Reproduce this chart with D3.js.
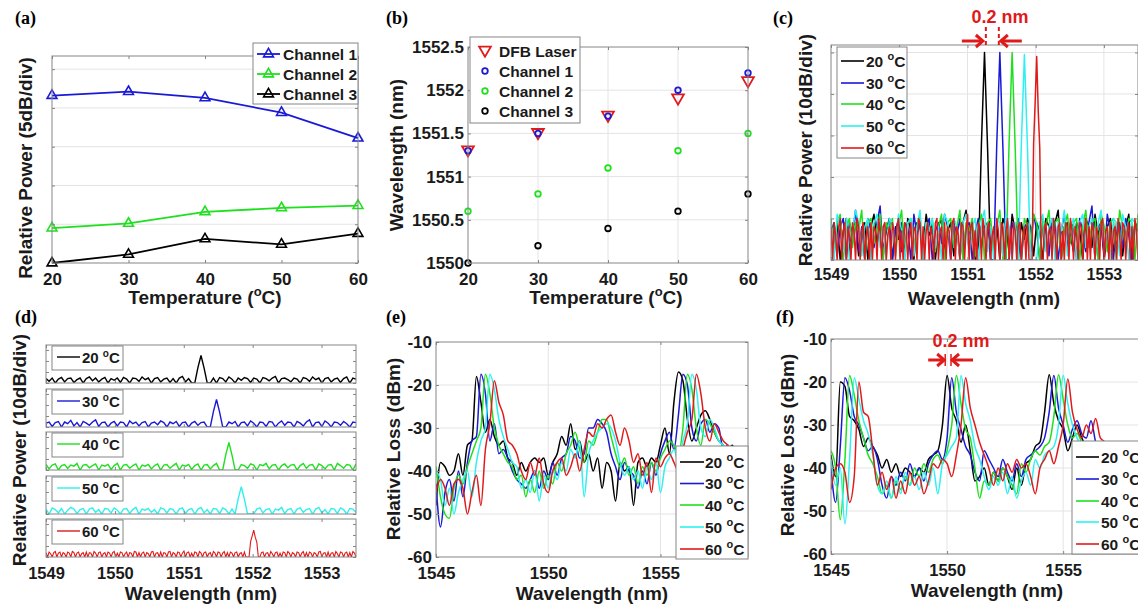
<!DOCTYPE html>
<html>
<head>
<meta charset="utf-8">
<script src="https://cdn.jsdelivr.net/npm/d3@7"></script>
<style>
body { margin: 0; background: #fff; }
svg text { font-family: "Liberation Sans", Arial, sans-serif; font-weight: bold; fill: #1a1a1a; }
svg text.plab { font-family: "Liberation Serif", "Times New Roman", serif; font-size: 18px; fill: #000; }
</style>
</head>
<body>
<svg id="fig" width="1138" height="606"></svg>
<script>
// ---- (a) relative power of channels vs temperature (5 dB/div, bottom = 0)
var temps = [20, 30, 40, 50, 60]
var powCh1 = [21.6, 22.1, 21.3, 19.4, 16.1]
var powCh2 = [4.5, 5.1, 6.6, 7.1, 7.4]
var powCh3 = [0, 1.1, 3.1, 2.4, 3.8]

// ---- (b) wavelength vs temperature
var wlDfb = [1551.3, 1551.5, 1551.7, 1551.9, 1552.1]
var wlCh1 = [1551.3, 1551.5, 1551.7, 1552.0, 1552.2]
var wlCh2 = [1550.6, 1550.8, 1551.1, 1551.3, 1551.5]
var wlCh3 = [1550.0, 1550.2, 1550.4, 1550.6, 1550.8]

var tempLabels = ['20 ^oC', '30 ^oC', '40 ^oC', '50 ^oC', '60 ^oC']
var wlTicks = [1549, 1550, 1551, 1552, 1553]

// ---- (c)/(d) output spectra, relative power (dB above floor)
// 20..50 degC sampled every 0.045 nm from 1549 nm, 60 degC every 0.0225 nm
var specWl = d3.range(0, 101).map(i => 1549 + i * 0.045)
var specWlFine = d3.range(0, 201).map(i => 1549 + i * 0.0225)
var spec20 = [8,3,9,0,7,10,2,8,9,1, 6,9,0,8,11,4,9,2,7,10, 0,8,5,9,1,10,7,0,9,8, 3,11,6,9,0,8,10,2,7,9,
  1,8,0,9,12,2,8,0,0,28, 50,27,0,0,9,0,10,8,2,11, 7,0,9,5,10,8,1,9,7,0, 10,8,4,9,12,0,8,9,6,2,
  9,7,0,10,8,3,11,6,9,0, 8,10,2,7,9,1,8,11,0,9, 7]
var spec30 = [7,9,1,8,10,0,9,6,12,2, 8,0,10,7,3,9,13,1,8,9, 0,7,10,2,9,8,0,11,6,9, 2,8,10,0,7,9,4,11,8,0,
  9,6,10,1,8,9,0,7,10,3, 8,9,0,0,28,50,27,0,0,9, 6,10,0,8,9,2,11,7,0,9, 8,1,10,9,0,7,11,3,9,8,
  0,10,7,2,9,13,0,8,9,1, 11,7,0,9,8,3,10,6,0,9, 8]
var spec40 = [10,2,9,11,0,8,10,3,9,7, 12,0,9,10,4,8,11,0,9,7, 10,1,8,12,0,9,10,3,8,11, 0,9,7,10,2,8,11,0,9,10,
  3,8,12,0,9,7,10,1,8,11, 0,9,10,2,8,12,0,0,28,50, 27,0,0,10,8,3,11,9,0,10, 8,12,2,9,10,0,8,11,4,9,
  10,0,8,12,3,9,10,0,11,8, 2,9,10,0,12,8,3,10,9,0, 11]
var spec50 = [9,0,11,8,2,10,0,7,12,9, 1,8,10,0,9,11,3,8,0,10, 9,2,11,7,0,9,10,1,8,12, 0,9,7,10,3,8,0,11,9,2,
  10,8,0,9,11,1,8,10,0,9, 12,2,8,0,10,9,1,11,8,0, 9,0,28,49.5,27,0,0,0,9,11, 2,8,10,0,9,7,12,1,8,10,
  0,9,11,3,8,10,0,9,12,2, 8,0,10,9,1,11,8,0,10,9, 3]
var spec60 = [8,0,9,6,0,8,10,0,7,9, 0,8,6,0,9,7,0,10,8,0, 7,9,0,6,8,0,9,0,8,7, 0,10,7,0,8,9,0,6,8,0,
  9,7,0,8,10,0,7,0,9,8, 0,6,9,0,8,7,0,10,9,0, 8,0,7,9,0,8,6,0,9,10, 0,7,8,0,9,0,8,7,0,9,
  10,0,8,6,0,9,8,0,7,11, 0,8,9,0,7,0,9,8,0,10, 7,0,8,9,0,6,8,0,10,7, 0,9,8,0,7,10,0,8,0,9,
  7,0,8,9,0,6,8,0,9,0, 0,0,28,38,49,36,27,0,0,8, 9,0,7,8,0,10,6,0,8,9, 0,7,0,9,8,0,10,7,0,8,
  6,0,9,8,0,7,10,0,8,0, 9,7,0,8,6,0,9,10,0,7, 8,0,9,0,7,8,0,10,6,0, 9,8,0,7,9,0,8,0,10,7, 0]

// ---- (e) transmission, dBm, every 0.2 nm from 1545 nm
var lossWlE = d3.range(0, 70).map(i => 1545 + i * 0.2)
var lossE20 = [-48,-38,-39,-41,-40,-36,-41,-34,-33,-18, -24,-31,-28,-32,-34,-33,-37,-38,-41,-38,
  -40,-38,-37,-38,-37,-41,-38,-36,-32,-34, -29,-35,-33,-38,-36,-40,-37,-44,-38,-40,
  -47,-38,-40,-39,-48,-38,-37,-39,-37,-38, -34,-30,-36,-24,-17,-19,-28,-33,-30,-27,
  -26,-28,-31,-33,-34,-35,-34,-36,-35,-37]
var lossE30 = [-43,-53,-45,-42,-47,-40,-46,-38,-33,-32, -17.5,-22,-33,-29,-36,-35,-37,-40,-42,-43,
  -44,-42,-40,-44,-40,-42,-38,-41,-37,-36, -32,-33,-37,-36,-30,-30,-28,-29,-31,-36,
  -39,-42,-38,-40,-41,-44,-40,-43,-38,-41, -36,-33,-31,-35,-27,-17.5,-20,-30,-33,-29,
  -28,-31,-29,-30,-35,-34,-36,-37,-35,-38]
var lossE40 = [-39,-46,-50,-51,-44,-41,-43,-39,-36,-33, -30,-17.5,-22,-30,-34,-36,-38,-39,-42,-41,
  -46,-42,-45,-40,-44,-41,-43,-38,-40,-36, -34,-31,-35,-38,-33,-34,-31,-28,-28,-32,
  -36,-39,-37,-41,-39,-43,-39,-41,-38,-40, -37,-35,-33,-34,-36,-30,-17.5,-21,-30,-34,
  -28,-29,-31,-33,-34,-36,-35,-36,-37,-38]
var lossE50 = [-40,-42,-48,-44,-50,-45,-42,-40,-46,-38, -33,-30,-17.5,-21,-28,-32,-35,-38,-39,-44,
  -42,-45,-40,-47,-41,-44,-40,-42,-38,-40, -35,-37,-33,-46,-36,-33,-31,-30,-29,-30,
  -33,-38,-41,-39,-42,-40,-44,-39,-42,-38, -45,-39,-37,-35,-38,-33,-29,-17.5,-21,-30,
  -32,-28,-30,-33,-34,-35,-37,-38,-39,-40]
var lossE60 = [-45,-42,-44,-48,-43,-42,-44,-50,-45,-41, -48,-35,-29,-19,-24,-27,-33,-34,-36,-40,
  -42,-38,-41,-37,-43,-45,-40,-38,-37,-41, -39,-36,-40,-35,-31,-32,-29,-30,-28,-27,
  -31,-34,-30,-33,-38,-36,-41,-38,-45,-37, -39,-37,-36,-38,-40,-35,-31,-28,-17.5,-22,
  -30,-33,-29,-31,-33,-34,-36,-37,-35,-38]

// ---- (f) transmission, dBm, every 0.2 nm from 1545 nm
var lossWlF = d3.range(0, 67).map(i => 1545 + i * 0.2)
var lossF20 = [-37,-42,-20,-21,-28,-29,-31,-35,-33,-35, -37,-40,-38,-41,-39,-42,-40,-41,-42,-40,
  -41,-38,-37,-36,-30,-18.5,-26,-29,-34,-30, -36,-43,-42,-40,-44,-41,-43,-40,-42,-45,
  -40,-44,-39,-38,-35,-34,-27,-18.3,-25,-29, -31,-36,-33,-30,-33,-35,-37,-36,-38,-37,
  -39,-38,-40,-39,-41,-40,-42]
var lossF30 = [-40,-48,-35,-19,-22,-28,-30,-33,-36,-35, -38,-44,-47,-42,-44,-41,-43,-39,-42,-40,
  -43,-39,-37,-36,-38,-33,-19,-27,-31,-35, -37,-41,-43,-36,-38,-40,-42,-38,-41,-43,
  -39,-42,-38,-37,-36,-35,-33,-27,-18.5,-26, -30,-34,-31,-29,-32,-33,-29,-34,-37,-36,
  -38,-37,-39,-38,-40,-39,-41]
var lossF40 = [-36,-40,-52,-38,-18.5,-23,-29,-33,-37,-39, -42,-46,-44,-47,-43,-45,-42,-44,-40,-42,
  -39,-41,-38,-37,-39,-36,-30,-18.5,-25,-31, -33,-40,-47,-43,-44,-41,-43,-40,-42,-44,
  -46,-39,-41,-38,-36,-37,-35,-34,-28,-18.3, -24,-30,-33,-32,-34,-36,-35,-37,-38,-37,
  -39,-38,-40,-39,-41,-40,-42]
var lossF50 = [-38,-44,-40,-53,-38,-19,-24,-29,-32,-37, -44,-46,-43,-47,-42,-46,-41,-44,-42,-45,
  -41,-44,-40,-46,-39,-37,-35,-33,-18.5,-25, -29,-35,-38,-42,-45,-42,-44,-41,-46,-42,
  -47,-43,-41,-44,-38,-40,-37,-36,-35,-30, -18.5,-25,-30,-33,-35,-36,-38,-37,-39,-38,
  -40,-39,-41,-40,-42,-41,-43]
var lossF60 = [-45,-40,-39,-41,-48,-42,-20,-27,-28,-36, -44,-41,-45,-42,-47,-43,-46,-41,-44,-42,
  -46,-43,-39,-40,-38,-39,-42,-37,-30,-19, -26,-30,-34,-37,-40,-44,-40,-43,-39,-41,
  -38,-40,-39,-42,-46,-40,-38,-36,-39,-35, -30,-19.3,-27,-31,-33,-30,-32,-28.5,-33,-34,
  -36,-35,-37,-36,-38,-37,-39]

// 0.2 nm shift markers (peak wavelengths of 20 and 30 degC)
var shiftC = [1551.27, 1551.46]
var shiftF = [1549.92, 1550.17]

var black = '#000000', blue = '#1a1ad6', green = '#1fe01f', cyan = '#2ef0f0', red = '#e01a1a'
var tempColors = [black, blue, green, cyan, red]
var gridCol = '#e4e4e4', boxCol = '#858585'

var svg = d3.select('#fig')
var defs = svg.append('defs')
var clipN = 0

function clip(x, y) {
    var id = 'clip' + (clipN++)
    var xr = x.range(), yr = y.range()
    defs.append('clipPath').attr('id', id).append('rect')
        .attr('x', xr[0]).attr('y', yr[1]).attr('width', xr[1] - xr[0]).attr('height', yr[0] - yr[1])
    return 'url(#' + id + ')'
}

// text with "^o" turned into a raised small o
function label(g, x, y, str, size, anchor, rotate, color) {
    var t = g.append('text').attr('x', x).attr('y', y).style('font-size', size + 'px')
        .attr('text-anchor', anchor || 'start')
    if (rotate) t.attr('transform', `rotate(-90, ${x}, ${y})`)
    if (color) t.style('fill', color)
    var parts = str.split('^o')
    t.append('tspan').text(parts[0])
    if (parts.length > 1) {
        t.append('tspan').text('o').style('font-size', Math.round(size * 0.68) + 'px').attr('dy', -size * 0.42)
        t.append('tspan').text(parts[1]).attr('dy', size * 0.42)
    }
    return t
}

function grid(g, x, y, gx, gy) {
    var xr = x.range(), yr = y.range()
    g.selectAll(null).data(gx).join('line')
        .attr('x1', d => x(d)).attr('x2', d => x(d)).attr('y1', yr[0]).attr('y2', yr[1])
        .attr('stroke', gridCol)
    g.selectAll(null).data(gy).join('line')
        .attr('y1', d => y(d)).attr('y2', d => y(d)).attr('x1', xr[0]).attr('x2', xr[1])
        .attr('stroke', gridCol)
}

function frame(g, x, y, o) {
    var xr = x.range(), yr = y.range(), tl = 3
    g.append('rect').attr('x', xr[0]).attr('y', yr[1]).attr('width', xr[1] - xr[0]).attr('height', yr[0] - yr[1])
        .attr('fill', 'none').attr('stroke', boxCol)
    var bx = g.append('g').attr('transform', `translate(0,${yr[0]})`)
        .call(d3.axisBottom(x).tickValues(o.tx).tickSizeInner(-tl).tickSizeOuter(0)
            .tickPadding(o.xpad || 0).tickFormat(o.xfs ? (d => String(d)) : (() => '')))
    g.append('g').attr('transform', `translate(0,${yr[1]})`)
        .call(d3.axisTop(x).tickValues(o.tx).tickSizeInner(-tl).tickSizeOuter(0).tickFormat(() => ''))
    var ly = g.append('g').attr('transform', `translate(${xr[0]},0)`)
        .call(d3.axisLeft(y).tickValues(o.ty).tickSizeInner(-tl).tickSizeOuter(0)
            .tickPadding(o.ypad || 0).tickFormat(o.yfs ? (d => String(d)) : (() => '')))
    g.append('g').attr('transform', `translate(${xr[1]},0)`)
        .call(d3.axisRight(y).tickValues(o.ty).tickSizeInner(-tl).tickSizeOuter(0).tickFormat(() => ''))
    g.selectAll('.domain').remove()
    g.selectAll('.tick line').attr('stroke', boxCol)
    if (o.xfs) bx.selectAll('text').style('font-size', o.xfs + 'px')
    if (o.yfs) ly.selectAll('text').style('font-size', o.yfs + 'px')
}

function legendBox(g, x, y, w, h) {
    g.append('rect').attr('x', x).attr('y', y).attr('width', w).attr('height', h)
        .attr('fill', '#fff').attr('stroke', boxCol)
}

function tempLegend(g, x, y, w, h, rows, lx0, lx1, tx, fs) {
    legendBox(g, x, y, w, h)
    tempLabels.forEach((t, i) => {
        g.append('line').attr('x1', lx0).attr('x2', lx1).attr('y1', rows[i]).attr('y2', rows[i])
            .attr('stroke', tempColors[i]).attr('stroke-width', 1.6)
        label(g, tx, rows[i] + fs * 0.36, t, fs)
    })
}

// ================= (a)
var xa = d3.scaleLinear().domain([20, 60]).range([52, 358])
var ya = d3.scaleLinear().domain([0, 26.7]).range([263, 56])
var ga = svg.append('g')
grid(ga, xa, ya, [], [5, 10, 15, 20, 25])
var lineA = d3.line().x((d, i) => xa(temps[i])).y(d => ya(d))
var tri = d3.symbol().type(d3.symbolTriangle).size(42)
var seriesA = [[powCh1, blue, 'Channel 1'], [powCh2, green, 'Channel 2'], [powCh3, black, 'Channel 3']]
seriesA.forEach(s => {
    ga.append('path').attr('d', lineA(s[0])).attr('fill', 'none').attr('stroke', s[1]).attr('stroke-width', 1.8)
    ga.selectAll(null).data(s[0]).join('path').attr('d', tri)
        .attr('transform', (d, i) => `translate(${xa(temps[i])},${ya(d)})`)
        .attr('fill', 'none').attr('stroke', s[1]).attr('stroke-width', 1.6)
})
frame(ga, xa, ya, { tx: temps, ty: [0, 5, 10, 15, 20, 25], xfs: 17, xpad: 10 })
legendBox(ga, 253, 43, 105, 61)
seriesA.forEach((s, i) => {
    var ry = 54 + i * 20
    ga.append('line').attr('x1', 257).attr('x2', 280).attr('y1', ry).attr('y2', ry).attr('stroke', s[1]).attr('stroke-width', 1.8)
    ga.append('path').attr('d', tri).attr('transform', `translate(268.5,${ry})`)
        .attr('fill', 'none').attr('stroke', s[1]).attr('stroke-width', 1.6)
    label(ga, 283, ry + 5.5, s[2], 15.5)
})
label(ga, 205, 304, 'Temperature (^oC)', 19, 'middle')
label(ga, 32, 168, 'Relative Power (5dB/div)', 19, 'middle', true)
ga.append('text').attr('class', 'plab').attr('x', 15).attr('y', 24).text('(a)')

// ================= (b)
var xb = d3.scaleLinear().domain([20, 60]).range([468, 748])
var yb = d3.scaleLinear().domain([1550, 1552.5]).range([263, 47])
var gb = svg.append('g')
grid(gb, xb, yb, [30, 40, 50], [1550.5, 1551, 1551.5, 1552])
var triDown = d3.symbol().type(d3.symbolTriangle).size(60)
gb.selectAll(null).data(wlDfb).join('path').attr('d', triDown)
    .attr('transform', (d, i) => `translate(${xb(temps[i])},${yb(d) - 1}) rotate(180)`)
    .attr('fill', 'none').attr('stroke', red).attr('stroke-width', 1.8)
var seriesB = [[wlCh1, blue], [wlCh2, green], [wlCh3, black]]
seriesB.forEach(s => {
    gb.selectAll(null).data(s[0]).join('circle')
        .attr('cx', (d, i) => xb(temps[i])).attr('cy', d => yb(d)).attr('r', 2.8)
        .attr('fill', 'none').attr('stroke', s[1]).attr('stroke-width', 1.8)
})
frame(gb, xb, yb, { tx: temps, ty: [1550, 1550.5, 1551, 1551.5, 1552, 1552.5], xfs: 17, xpad: 10, yfs: 17, ypad: 4 })
legendBox(gb, 470, 37, 110, 86)
var legB = [['DFB Laser', red], ['Channel 1', blue], ['Channel 2', green], ['Channel 3', black]]
legB.forEach((s, i) => {
    var ry = 51 + i * 20
    if (i === 0) {
        gb.append('path').attr('d', triDown).attr('transform', `translate(485,${ry - 1}) rotate(180)`)
            .attr('fill', 'none').attr('stroke', red).attr('stroke-width', 1.8)
    } else {
        gb.append('circle').attr('cx', 485).attr('cy', ry).attr('r', 2.8)
            .attr('fill', 'none').attr('stroke', s[1]).attr('stroke-width', 1.8)
    }
    label(gb, 499, ry + 5.5, s[0], 15.5)
})
label(gb, 606, 304, 'Temperature (^oC)', 19, 'middle')
label(gb, 403, 155, 'Wavelength (nm)', 19, 'middle', true)
gb.append('text').attr('class', 'plab').attr('x', 386).attr('y', 24).text('(b)')

// ================= (c)
var specs = [spec20, spec30, spec40, spec50, spec60]
var specX = [specWl, specWl, specWl, specWl, specWlFine]
var xc = d3.scaleLinear().domain([1549, 1553.5]).range([831, 1138])
var yc = d3.scaleLinear().domain([0, 51.8]).range([260, 45])
var gc = svg.append('g')
grid(gc, xc, yc, [1550, 1551, 1552, 1553], [10, 20, 30, 40, 50])
var pc = gc.append('g').attr('clip-path', clip(xc, yc))
specs.forEach((s, i) => {
    var lineC = d3.line().x((d, k) => xc(specX[i][k])).y(d => yc(d))
    pc.append('path').attr('d', lineC(s)).attr('fill', 'none').attr('stroke', tempColors[i])
        .attr('stroke-width', 1.5).attr('stroke-linejoin', 'round')
})
frame(gc, xc, yc, { tx: wlTicks, ty: [0, 10, 20, 30, 40, 50], xfs: 16, xpad: 9 })
tempLegend(gc, 837, 47, 70, 111, [61, 83, 104, 126, 148], 841, 864, 866, 15.5)
label(gc, 984, 305, 'Wavelength (nm)', 19, 'middle')
label(gc, 812, 150, 'Relative Power (10dB/div)', 19, 'middle', true)
gc.append('text').attr('class', 'plab').attr('x', 773).attr('y', 24).text('(c)')
// 0.2 nm annotation
label(gc, 1000, 23, '0.2 nm', 18, 'middle', false, red)
shiftC.forEach(w => {
    gc.append('line').attr('x1', xc(w)).attr('x2', xc(w)).attr('y1', 27).attr('y2', 47)
        .attr('stroke', red).attr('stroke-width', 2).attr('stroke-dasharray', '4,3')
})
var ay = 41
gc.append('line').attr('x1', xc(shiftC[0]) - 24).attr('x2', xc(shiftC[0]) - 3).attr('y1', ay).attr('y2', ay).attr('stroke', red).attr('stroke-width', 3)
gc.append('path').attr('d', `M${xc(shiftC[0]) - 10},${ay - 6}L${xc(shiftC[0]) - 3},${ay}L${xc(shiftC[0]) - 10},${ay + 6}`)
    .attr('fill', 'none').attr('stroke', red).attr('stroke-width', 3)
gc.append('line').attr('x1', xc(shiftC[1]) + 23).attr('x2', xc(shiftC[1]) + 2).attr('y1', ay).attr('y2', ay).attr('stroke', red).attr('stroke-width', 3)
gc.append('path').attr('d', `M${xc(shiftC[1]) + 9},${ay - 6}L${xc(shiftC[1]) + 2},${ay}L${xc(shiftC[1]) + 9},${ay + 6}`)
    .attr('fill', 'none').attr('stroke', red).attr('stroke-width', 3)

// ================= (d) stacked spectra
var xd = d3.scaleLinear().domain([1549, 1553.5]).range([46, 356])
var dTops = [345, 389, 432, 476, 519]
var gd = svg.append('g')
specs.forEach((s, i) => {
    var top = dTops[i]
    var yd = d3.scaleLinear().domain([0, 69]).range([top + 38, top])
    var lineD = d3.line().x((d, k) => xd(specX[i][k])).y(d => yd(d))
    gd.append('g').attr('clip-path', clip(xd, yd)).append('path').attr('d', lineD(s))
        .attr('fill', 'none').attr('stroke', tempColors[i]).attr('stroke-width', i === 4 ? 1.1 : 1.4)
    frame(gd, xd, yd, { tx: wlTicks, ty: [0, 20, 40, 60], xfs: i === 4 ? 16.5 : 0, xpad: 10 })
    legendBox(gd, 52, top + 1, 71, 24)
    gd.append('line').attr('x1', 57).attr('x2', 80).attr('y1', top + 12).attr('y2', top + 12)
        .attr('stroke', tempColors[i]).attr('stroke-width', 1.4)
    label(gd, 82, top + 18, tempLabels[i], 15)
})
label(gd, 201, 600, 'Wavelength (nm)', 19, 'middle')
label(gd, 26, 450, 'Relative Power (10dB/div)', 19, 'middle', true)
gd.append('text').attr('class', 'plab').attr('x', 15).attr('y', 323).text('(d)')

// ================= (e)
var lossE = [lossE20, lossE30, lossE40, lossE50, lossE60]
var xe = d3.scaleLinear().domain([1545, 1558.9]).range([436, 748])
var ye = d3.scaleLinear().domain([-60, -10]).range([557, 342])
var ge = svg.append('g')
grid(ge, xe, ye, [1550, 1555], [-20, -30, -40, -50])
var lineE = d3.line().curve(d3.curveMonotoneX).x((d, i) => xe(lossWlE[i])).y(d => ye(d))
var pe = ge.append('g').attr('clip-path', clip(xe, ye))
lossE.forEach((s, i) => {
    pe.append('path').attr('d', lineE(s)).attr('fill', 'none').attr('stroke', tempColors[i]).attr('stroke-width', 1.5)
})
frame(ge, xe, ye, { tx: [1545, 1550, 1555], ty: [-60, -50, -40, -30, -20, -10], xfs: 17, xpad: 10, yfs: 17, ypad: 4 })
tempLegend(ge, 676, 446, 72, 113, [462, 483.5, 505, 527, 549], 680, 704, 705, 15.5)
label(ge, 592, 600, 'Wavelength (nm)', 19, 'middle')
label(ge, 400, 449, 'Relative Loss (dBm)', 19, 'middle', true)
ge.append('text').attr('class', 'plab').attr('x', 386).attr('y', 323).text('(e)')

// ================= (f)
var lossF = [lossF20, lossF30, lossF40, lossF50, lossF60]
var xf = d3.scaleLinear().domain([1545, 1559]).range([831, 1156])
var yf = d3.scaleLinear().domain([-60, -10]).range([554, 339])
var gf = svg.append('g')
grid(gf, xf, yf, [1550, 1555], [-20, -30, -40, -50])
var lineF = d3.line().curve(d3.curveMonotoneX).x((d, i) => xf(lossWlF[i])).y(d => yf(d))
var pf = gf.append('g').attr('clip-path', clip(xf, yf))
lossF.forEach((s, i) => {
    pf.append('path').attr('d', lineF(s)).attr('fill', 'none').attr('stroke', tempColors[i]).attr('stroke-width', 1.5)
})
frame(gf, xf, yf, { tx: [1545, 1550, 1555], ty: [-60, -50, -40, -30, -20, -10], xfs: 16.5, xpad: 10, yfs: 16.5, ypad: 4 })
tempLegend(gf, 1072, 441, 80, 113, [457, 479, 501, 522, 544], 1076, 1099, 1101, 15.5)
label(gf, 987, 597, 'Wavelength (nm)', 19, 'middle')
label(gf, 794, 445, 'Relative Loss (dBm)', 19, 'middle', true)
gf.append('text').attr('class', 'plab').attr('x', 776).attr('y', 323).text('(f)')
// 0.2 nm annotation
label(gf, 961, 347, '0.2 nm', 18, 'middle', false, red)
var fy = 360
gf.append('line').attr('x1', xf(shiftF[0]) - 17).attr('x2', xf(shiftF[0]) - 1).attr('y1', fy).attr('y2', fy).attr('stroke', red).attr('stroke-width', 3)
gf.append('path').attr('d', `M${xf(shiftF[0]) - 8},${fy - 6}L${xf(shiftF[0]) - 1},${fy}L${xf(shiftF[0]) - 8},${fy + 6}`)
    .attr('fill', 'none').attr('stroke', red).attr('stroke-width', 3)
gf.append('line').attr('x1', xf(shiftF[1]) + 22).attr('x2', xf(shiftF[1]) + 1).attr('y1', fy).attr('y2', fy).attr('stroke', red).attr('stroke-width', 3)
gf.append('path').attr('d', `M${xf(shiftF[1]) + 8},${fy - 6}L${xf(shiftF[1]) + 1},${fy}L${xf(shiftF[1]) + 8},${fy + 6}`)
    .attr('fill', 'none').attr('stroke', red).attr('stroke-width', 3)
shiftF.forEach(w => {
    gf.append('line').attr('x1', xf(w)).attr('x2', xf(w)).attr('y1', fy - 6).attr('y2', fy + 6)
        .attr('stroke', red).attr('stroke-width', 1.5)
})
</script>
</body>
</html>
